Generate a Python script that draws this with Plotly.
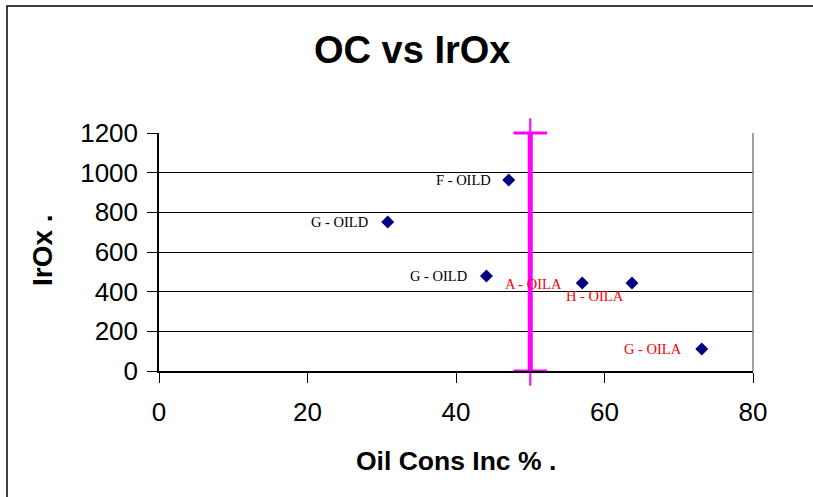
import plotly.graph_objects as go

# Data
x_vals = [47.1, 30.8, 44.1, 57.0, 63.7, 73.1]
y_vals = [963, 751, 479, 444, 444, 111]
labels = ["F - OILD", "G - OILD", "G - OILD", "A - OILA", "H - OILA", "G - OILA"]
label_colors = ["black", "black", "black", "red", "red", "red"]
label_xshift = [-16, -18, -17, -18, -6, -18]
label_yshift = [0, 0, 0, -1, -13, 0]

limit_x = [50, 50]
limit_y = [0, 1200]

x_ticks = [0, 20, 40, 60, 80]
y_ticks = [0, 200, 400, 600, 800, 1000, 1200]

W, H = 813, 497
L, R, T, B = 159, 753, 133, 371

fig = go.Figure()

fig.add_trace(go.Scatter(
    x=limit_x, y=limit_y, mode="lines",
    line=dict(color="#FF00FF", width=5), hoverinfo="skip", showlegend=False))
fig.add_trace(go.Scatter(
    x=limit_x, y=limit_y, mode="markers", cliponaxis=False,
    marker=dict(symbol="line-ew", size=24, line=dict(color="#FF00FF", width=3)),
    hoverinfo="skip", showlegend=False))
fig.add_trace(go.Scatter(
    x=limit_x, y=limit_y, mode="markers", cliponaxis=False,
    marker=dict(symbol="line-ns", size=21, line=dict(color="#FF00FF", width=2)),
    hoverinfo="skip", showlegend=False))

fig.add_trace(go.Scatter(
    x=x_vals, y=y_vals, mode="markers",
    marker=dict(symbol="diamond", size=10, color="#000080"),
    showlegend=False))

for xv, yv, lab, col, xs, ys in zip(x_vals, y_vals, labels, label_colors, label_xshift, label_yshift):
    fig.add_annotation(x=xv, y=yv, text=lab, showarrow=False,
                       xanchor="right", yanchor="middle", xshift=xs, yshift=ys,
                       font=dict(family="Liberation Serif", size=14.5, color=col))

pw = R - L
ph = B - T
def px(xp):
    return (xp - L) / pw
def py(yp):
    return (B - yp) / ph

# outer chart border (left and top visible)
fig.add_shape(type="rect", xref="paper", yref="paper",
              x0=px(7), x1=px(830), y0=py(520), y1=py(6),
              line=dict(color="black", width=1.5), layer="below")
# right plot border
fig.add_shape(type="line", xref="paper", yref="paper",
              x0=1, x1=1, y0=0, y1=1, line=dict(color="#808080", width=1.5))

fig.add_annotation(xref="paper", yref="paper", x=px(412), y=py(50),
                   text="<b>OC vs IrOx</b>", showarrow=False,
                   xanchor="center", yanchor="middle",
                   font=dict(family="Liberation Sans", size=38, color="black"))
fig.add_annotation(xref="paper", yref="paper", x=0.5, y=py(461),
                   text="<b>Oil Cons Inc % .</b>", showarrow=False,
                   xanchor="center", yanchor="middle",
                   font=dict(family="Liberation Sans", size=26.5, color="black"))
fig.add_annotation(xref="paper", yref="paper", x=px(42), y=py(250),
                   text="<b>IrOx .</b>", showarrow=False, textangle=-90,
                   xanchor="center", yanchor="middle",
                   font=dict(family="Liberation Sans", size=28, color="black"))

fig.update_layout(
    width=W, height=H,
    margin=dict(l=L, r=W - R, t=T, b=H - B, pad=0),
    paper_bgcolor="white", plot_bgcolor="white",
    font=dict(family="Liberation Sans", size=26, color="black"),
    xaxis=dict(range=[0, 80], tickvals=x_ticks, showgrid=False, zeroline=False,
               showline=True, linecolor="black", linewidth=1.5,
               ticks="outside", ticklen=10, tickcolor="black", tickwidth=1,
               ticklabelstandoff=7, tickfont=dict(size=26)),
    yaxis=dict(range=[0, 1200], tickvals=y_ticks, showgrid=True,
               gridcolor="black", gridwidth=1, zeroline=False,
               showline=True, linecolor="black", linewidth=1.5,
               ticks="outside", ticklen=10, tickcolor="black", tickwidth=1,
               ticklabelstandoff=4, tickfont=dict(size=26)),
)

fig.write_html("out.html", config={"displayModeBar": False},
               post_script="document.body.style.margin='0';document.body.style.overflow='hidden';")
